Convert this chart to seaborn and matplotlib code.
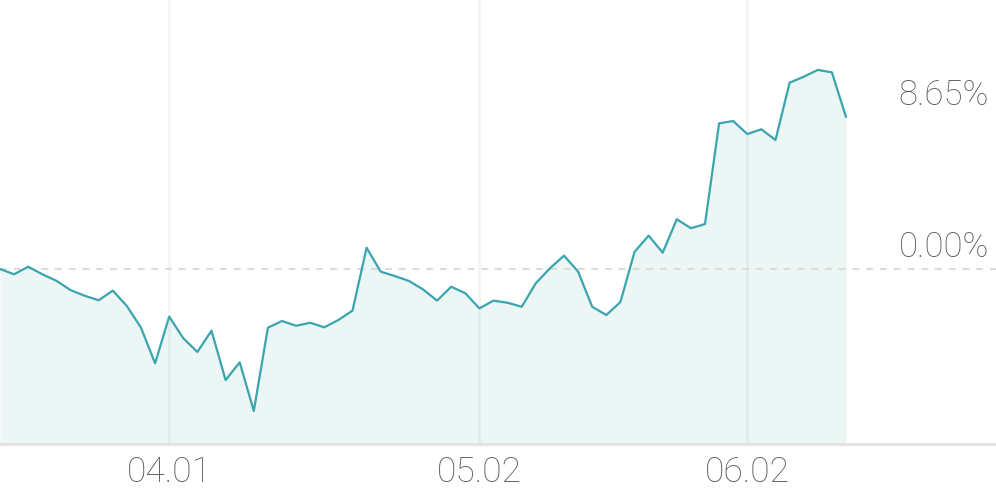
import numpy as np
import pandas as pd
import seaborn as sns
import matplotlib.pyplot as plt

# daily cumulative return (%), one value per trading day
returns = [0.00, -0.30, 0.13, -0.30, -0.67, -1.20, -1.52, -1.78, -1.23, -2.11,
           -3.34, -5.37, -2.71, -3.94, -4.72, -3.51, -6.32, -5.31, -8.08, -3.34,
           -2.96, -3.23, -3.06, -3.32, -2.90, -2.37, 1.21, -0.15, -0.40, -0.68,
           -1.16, -1.80, -1.01, -1.38, -2.24, -1.80, -1.92, -2.15, -0.81, 0.04,
           0.76, -0.15, -2.15, -2.62, -1.88, 0.97, 1.90, 0.93, 2.83, 2.32,
           2.56, 8.29, 8.42, 7.68, 7.95, 7.34, 10.60, 10.94, 11.33, 11.19,
           8.65]
tick_pos = [12, 34, 53]
tick_labels = ['04.01', '05.02', '06.02']
ref_levels = [0.00]

line_color = '#3aa5ae'
fill_color = '#ebf6f5'
text_color = '#5e5e5e'

sns.set_style('white')
plt.rcParams['font.family'] = ['Roboto', 'DejaVu Sans']

df = pd.DataFrame({'day': np.arange(len(returns)), 'ret': returns})

fig = plt.figure(figsize=(9.96, 4.9), dpi=100)
ax = fig.add_axes([0, 1 - 444 / 490, 1, 444 / 490])

px_per_day = 846 / 60
ax.set_xlim(0, 996 / px_per_day)
k = 8.65 / 152
ax.set_ylim(-175 * k, 269 * k)

ax.fill_between(df['day'], df['ret'], -175 * k, color=fill_color, zorder=1, lw=0)
for p in tick_pos:
    ax.axvline(p, color='black', alpha=0.045, lw=2, zorder=2)
for lv in ref_levels:
    ax.axhline(lv, color='#dcdcdc', lw=1.5, ls=(0, (3.3, 3.3)), zorder=2)

sns.lineplot(data=df, x='day', y='ret', color=line_color, lw=1.6, ax=ax, zorder=3)

# value labels on the right
for val in [returns[-1], 0.0]:
    ax.annotate(f'{val:.2f}%', xy=(1, val), xycoords=('axes fraction', 'data'),
                xytext=(-7, 5), textcoords='offset pixels', ha='right', va='bottom',
                fontsize=25, color=text_color, fontweight='light')

ax.set_xticks(tick_pos)
ax.set_xticklabels(tick_labels)
ax.tick_params(axis='x', length=0, pad=8, labelsize=25.5, labelcolor=text_color)
for t in ax.get_xticklabels():
    t.set_fontweight('light')
ax.set_yticks([])
ax.set_xlabel('')
ax.set_ylabel('')
for s in ['top', 'left', 'right']:
    ax.spines[s].set_visible(False)
ax.spines['bottom'].set_color('#e3e3e3')
ax.spines['bottom'].set_linewidth(2.2)

fig.savefig('out.png', dpi=100)
